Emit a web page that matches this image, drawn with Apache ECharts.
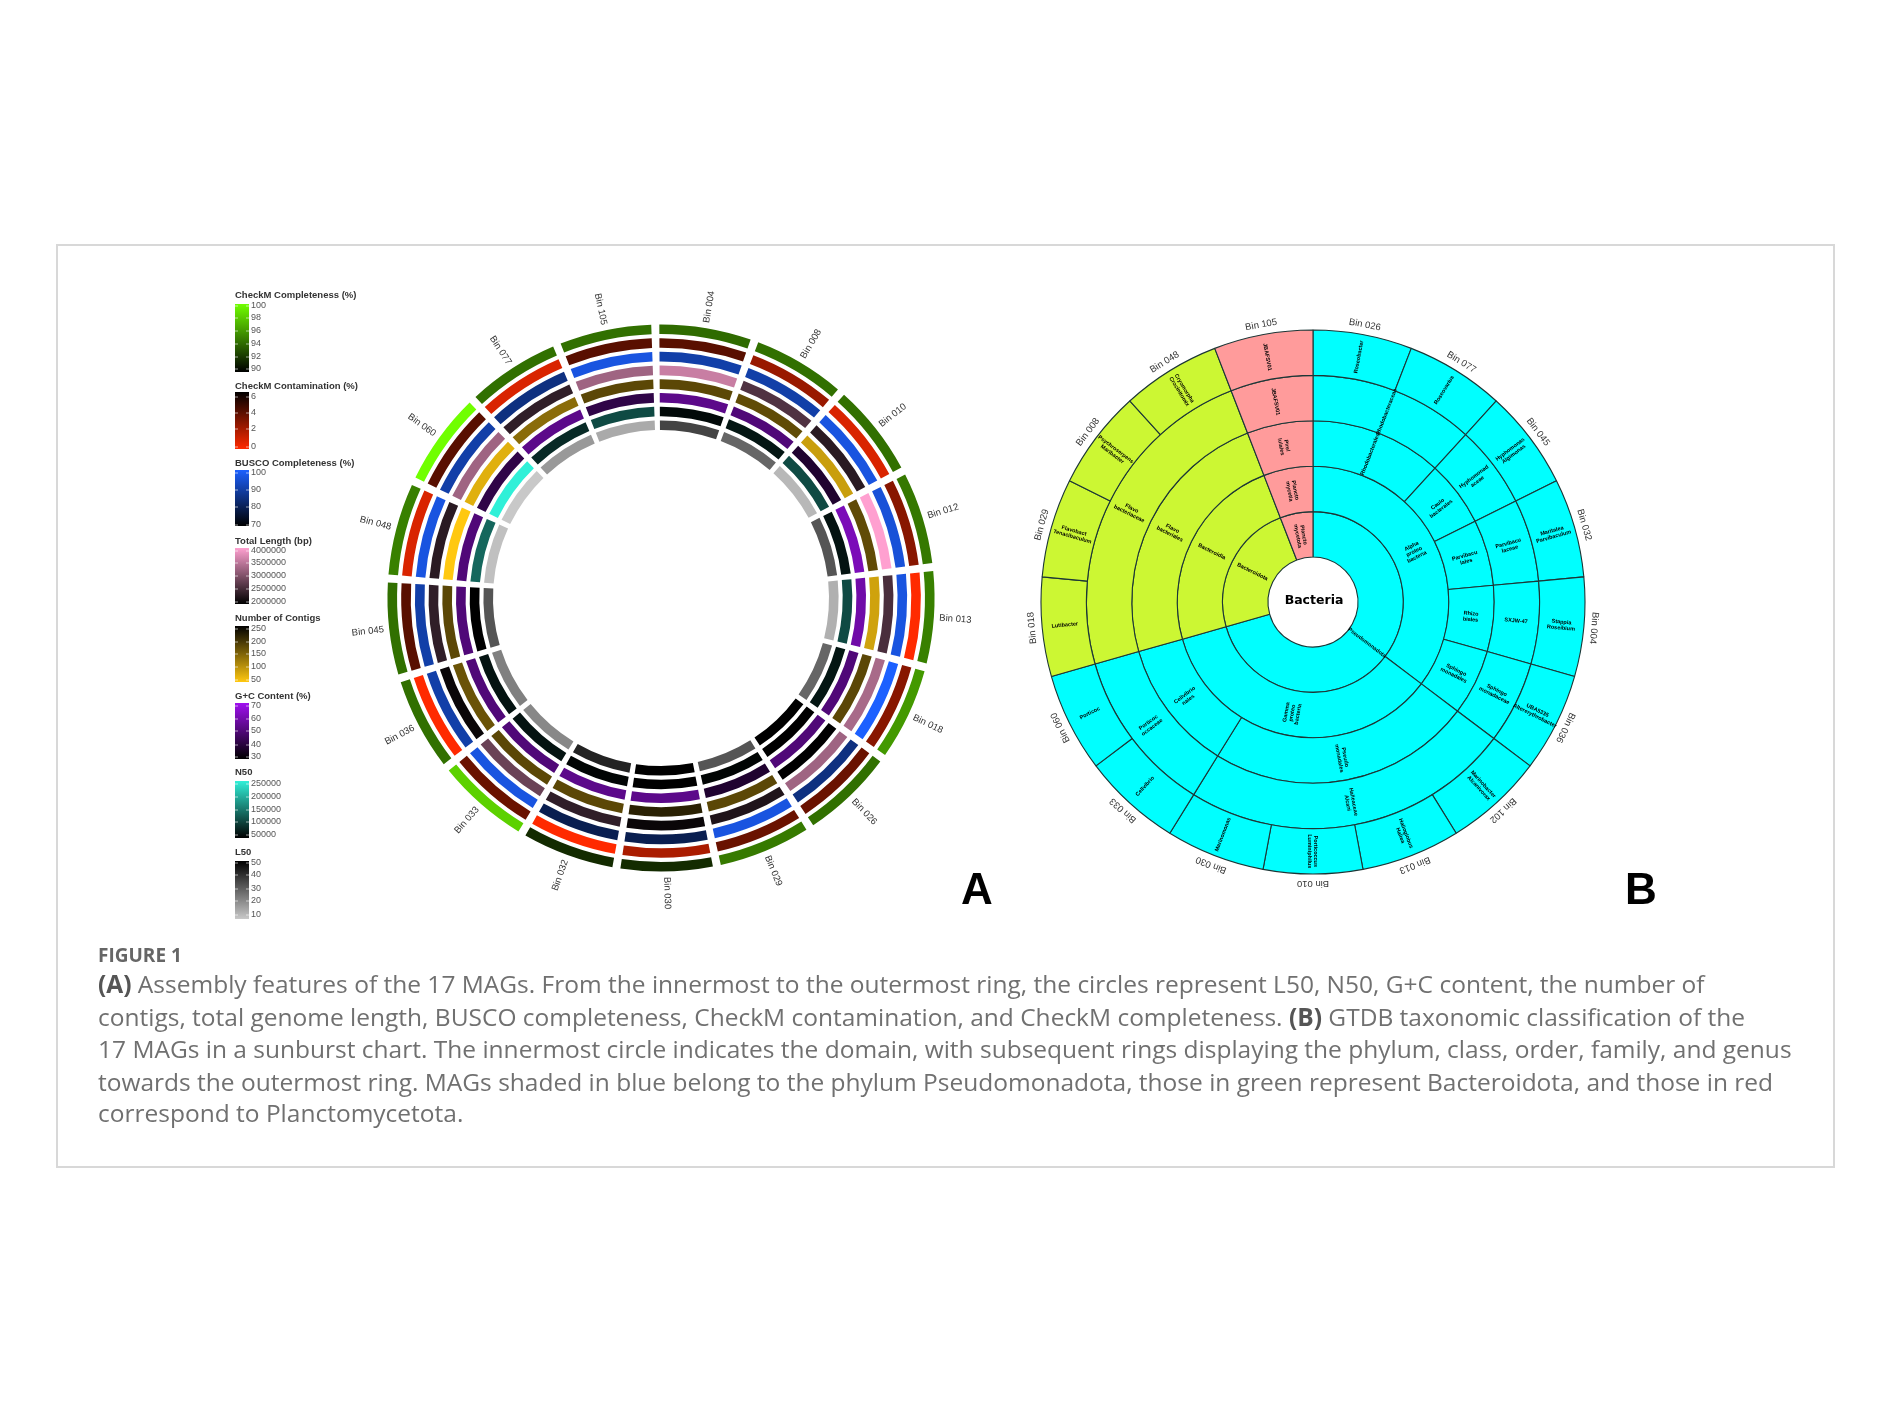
<!DOCTYPE html>
<html>
<head>
<meta charset="utf-8">
<style>html,body{margin:0;padding:0;background:#fff}#c{width:1890px;height:1417px}</style>
<script src="https://cdn.jsdelivr.net/npm/echarts@6/dist/echarts.min.js"></script>
</head>
<body>
<div id="c"></div>
<script>
// ---------- Panel A: assembly features, clockwise from 12 o'clock ----------
const binsA = ['Bin 004','Bin 008','Bin 010','Bin 012','Bin 013','Bin 018','Bin 026','Bin 029','Bin 030','Bin 032','Bin 033','Bin 036','Bin 045','Bin 048','Bin 060','Bin 077','Bin 105'];
const completeness  = [94.2,94.4,94.4,94.7,95,96,94.4,94.8,91.7,91.7,98.2,94.4,94.4,95,100,94.4,94.4];
const contamination = [3.9,2.4,0.9,2.8,0,2.8,3.5,3.5,2.0,0,3.5,0,3.9,0.9,3.9,0.9,3.9];
const busco         = [89.8,89.8,96.4,95.4,96.4,100,85,96.4,79.4,79.4,96.4,89.8,89.8,96.4,89.8,85,96.4];
const totalLength   = [3570000,2630000,2330000,4000000,2580000,3320000,3250000,2250000,2080000,2380000,2830000,2080000,2380000,2330000,3250000,2380000,3250000];
const contigs       = [179,175,92,175,88,179,250,179,217,179,179,167,179,50,74,142,179];
const gcContent     = [53,50,38,60.7,58,50,50,38,53,53,50,50,50,50,42,53,42];
const n50           = [58000,68000,112000,66000,112000,68000,50000,54000,50000,54000,66000,66000,50000,136000,250000,85000,112000];
const l50           = [36.4,29.6,13.2,33,14.8,29.6,50,33,50,43,22.8,24.4,33,11.6,10,19.4,16];

// legend titles, tick labels
const legendTitles = ['CheckM Completeness (%)','CheckM Contamination (%)','BUSCO Completeness (%)','Total Length (bp)','Number of Contigs','G+C Content (%)','N50','L50'];
const ticksCompleteness = [100,98,96,94,92,90];
const ticksContamination = [6,4,2,0];
const ticksBusco = [100,90,80,70];
const ticksLength = [4000000,3500000,3000000,2500000,2000000];
const ticksContigs = [250,200,150,100,50];
const ticksGc = [70,60,50,40,30];
const ticksN50 = [250000,200000,150000,100000,50000];
const ticksL50 = [50,40,30,20,10];

// ---------- Panel B: GTDB taxonomy, clockwise from 12 o'clock ----------
const binsB = ['Bin 026','Bin 077','Bin 045','Bin 032','Bin 004','Bin 036','Bin 102','Bin 013','Bin 010','Bin 030','Bin 033','Bin 060','Bin 018','Bin 029','Bin 008','Bin 048','Bin 105'];
const phyla = ['Pseudomonadota','Pseudomonadota','Pseudomonadota','Pseudomonadota','Pseudomonadota','Pseudomonadota','Pseudomonadota','Pseudomonadota','Pseudomonadota','Pseudomonadota','Pseudomonadota','Pseudomonadota','Bacteroidota','Bacteroidota','Bacteroidota','Bacteroidota','Plancto\nmycetota'];
const classes = ['Alpha\nproteo\nbacteria','Alpha\nproteo\nbacteria','Alpha\nproteo\nbacteria','Alpha\nproteo\nbacteria','Alpha\nproteo\nbacteria','Alpha\nproteo\nbacteria','Gamma\nproteo\nbacteria','Gamma\nproteo\nbacteria','Gamma\nproteo\nbacteria','Gamma\nproteo\nbacteria','Gamma\nproteo\nbacteria','Gamma\nproteo\nbacteria','Bacteroidia','Bacteroidia','Bacteroidia','Bacteroidia','Plancto\nmycetia'];
const orders = ['Rhodobacterales','Rhodobacterales','Caulo\nbacterales','Parvibacu\nlales','Rhizo\nbiales','Sphingo\nmonadales','Pseudo\nmonadales','Pseudo\nmonadales','Pseudo\nmonadales','Pseudo\nmonadales','Cellvibrio\nnales','Cellvibrio\nnales','Flavo\nbacteriales','Flavo\nbacteriales','Flavo\nbacteriales','Flavo\nbacteriales','Pirel\nlulales'];
const families = ['Rhodobacteraceae','Rhodobacteraceae','Hyphomonad\naceae','Parvibacu\nlaceae','SXJW-47','Sphingo\nmonadaceae','Halieaceae\nAlcani','Halieaceae\nAlcani','Halieaceae\nAlcani','Halieaceae\nAlcani','Porticoc\noccaceae','Porticoc\noccaceae','Flavo\nbacteriaceae','Flavo\nbacteriaceae','Flavo\nbacteriaceae','Flavo\nbacteriaceae','JBAFSV01'];
const genera = ['Roseobacter','Roseovarius','Hyphomonas\nAlgimonas','Maritalea\nParvibaculum','Stappia\nRoseibium','UBA5335\nAltererythrobacter','Marinobacter\nAlcanivorax','Halioglobus\nHaliea','Porticoccus\nLuminiphilus','Marinomonas','Cellvibrio','Porticoc','Lutibacter','Flavobact\nTenacibaculum','Psychroserpens\nMaribacter','Cryomorpha\nCrocinitomix','JBAFSV01'];
const phylumColors = {Pseudomonadota:'#00ffff', Bacteroidota:'#ccf733', 'Plancto\nmycetota':'#ff9b9b'};

// ---------- Caption ----------
const captionHead = 'FIGURE 1';
const captionLines = [
  '{b|(A)} Assembly features of the 17 MAGs. From the innermost to the outermost ring, the circles represent L50, N50, G+C content, the number of',
  'contigs, total genome length, BUSCO completeness, CheckM contamination, and CheckM completeness. {b|(B)} GTDB taxonomic classification of the',
  '17 MAGs in a sunburst chart. The innermost circle indicates the domain, with subsequent rings displaying the phylum, class, order, family, and genus',
  'towards the outermost ring. MAGs shaded in blue belong to the phylum Pseudomonadota, those in green represent Bacteroidota, and those in red',
  'correspond to Planctomycetota.'
];

// ---------- scales: [values, value at low colour, low colour, value at high colour, high colour], inner to outer ----------
const tracks = [
  [l50, 10,'#c8c8c8', 50,'#000000'],
  [n50, 50000,'#000000', 250000,'#30f0d8'],
  [gcContent, 30,'#000000', 70,'#a010f0'],
  [contigs, 50,'#ffc810', 250,'#000000'],
  [totalLength, 2000000,'#000000', 4000000,'#ffa0d0'],
  [busco, 70,'#000000', 100,'#1c60ff'],
  [contamination, 0,'#ff2a00', 6,'#000000'],
  [completeness, 90,'#000000', 100,'#70ff00']
];
function rgb(h){return [1,3,5].map(i=>parseInt(h.substr(i,2),16));}
function mix(a,b,t){const x=rgb(a),y=rgb(b);return 'rgb('+x.map((v,i)=>Math.round(v+(y[i]-v)*t)).join(',')+')';}

const cellData = [];
tracks.forEach((tr,k)=>tr[0].forEach((v,b)=>cellData.push([b,k,v])));

const GAP = 0.04;
function renderCell(params, api){
  const b=api.value(0), k=api.value(1), v=api.value(2);
  const tr=tracks[k];
  const t=(v-tr[1])/(tr[3]-tr[1]);
  const a=api.coord([k,b+GAP]), c=api.coord([k+0.7,b+1-GAP]);
  return {type:'sector',silent:true,
    shape:{cx:params.coordSys.cx,cy:params.coordSys.cy,r0:a[2],r:c[2],startAngle:-a[3],endAngle:-c[3],clockwise:true},
    style:{fill:mix(tr[2],tr[4],t)}};
}
function renderLabelA(params, api){
  const i=api.value(0);
  const p=api.coord([9.27,i+0.5]);
  const theta=((90-p[3]*180/Math.PI)%360+360)%360;
  const rot=theta<180?90-theta:270-theta;
  return {type:'text',silent:true,x:p[0],y:p[1],rotation:rot*Math.PI/180,
    style:{text:binsA[i],x:0,y:0,align:'center',verticalAlign:'middle',fill:'#333',font:'9.5px "Liberation Sans"'}};
}
function renderLabelB(params, api){
  const i=api.value(0);
  const p=api.coord([1.044,i+0.5]);
  return {type:'text',silent:true,x:p[0],y:p[1],rotation:p[3]-Math.PI/2,
    style:{text:binsB[i],x:0,y:0,align:'center',verticalAlign:'middle',fill:'#333',font:'9.5px "Liberation Sans"'}};
}

// Sunburst tree, grouped from the parallel lists
const ranks=[phyla,classes,orders,families,genera];
function build(level,from,to,color){
  const out=[];let i=from;
  while(i<to){
    let j=i+1;
    while(j<to&&ranks[level][j]===ranks[level][i])j++;
    const col=color||phylumColors[ranks[level][i]];
    const node={name:ranks[level][i],itemStyle:{color:col}};
    if(level<4)node.children=build(level+1,i,j,col);else node.value=j-i;
    out.push(node);i=j;
  }
  return out;
}

// Legend and caption as graphics
const legendLayout=[
  {ty:295,y0:304,y1:372,ticks:ticksCompleteness,top:'#70ff00',bot:'#000000',ly:[306,318,331,344,357,369]},
  {ty:386,y0:392,y1:449,ticks:ticksContamination,top:'#000000',bot:'#ff2a00',ly:[397,413,429,447]},
  {ty:463,y0:470,y1:526,ticks:ticksBusco,top:'#1c60ff',bot:'#000000',ly:[473,490,507,525]},
  {ty:541,y0:548,y1:604,ticks:ticksLength,top:'#ffa0d0',bot:'#000000',ly:[551,563,576,589,602]},
  {ty:618,y0:626,y1:682,ticks:ticksContigs,top:'#000000',bot:'#ffc810',ly:[629,642,654,667,680]},
  {ty:696,y0:703,y1:759,ticks:ticksGc,top:'#a010f0',bot:'#000000',ly:[706,719,731,745,757]},
  {ty:772,y0:781,y1:838,ticks:ticksN50,top:'#30f0d8',bot:'#000000',ly:[784,797,810,822,835]},
  {ty:852,y0:861,y1:919,ticks:ticksL50,top:'#000000',bot:'#c8c8c8',ly:[863,875,889,901,915]}
];
const graphics=[{type:'rect',z:-1,shape:{x:57,y:245,width:1777,height:922},style:{fill:'#fff',stroke:'#d8d8d8',lineWidth:2}}];
legendLayout.forEach((l,i)=>{
  graphics.push({type:'text',style:{text:legendTitles[i],x:235,y:l.ty,verticalAlign:'middle',fill:'#333',font:'bold 9.5px "Liberation Sans"'}});
  graphics.push({type:'rect',shape:{x:235,y:l.y0,width:14,height:l.y1-l.y0},style:{fill:{type:'linear',x:0,y:0,x2:0,y2:1,colorStops:[{offset:0,color:l.top},{offset:1,color:l.bot}]}}});
  l.ticks.forEach((t,j)=>{
    graphics.push({type:'text',style:{text:String(t),x:251,y:l.ly[j],verticalAlign:'middle',fill:'#555',font:'9px "Liberation Sans"'}});
    graphics.push({type:'line',shape:{x1:235,y1:l.ly[j],x2:238,y2:l.ly[j]},style:{stroke:'rgba(255,255,255,.6)',lineWidth:1}});
    graphics.push({type:'line',shape:{x1:246,y1:l.ly[j],x2:249,y2:l.ly[j]},style:{stroke:'rgba(255,255,255,.6)',lineWidth:1}});
  });
});
graphics.push({type:'text',style:{text:'A',x:977,y:892,align:'center',verticalAlign:'middle',fill:'#000',font:'bold 44px "Liberation Sans"'}});
graphics.push({type:'text',style:{text:'B',x:1641,y:892,align:'center',verticalAlign:'middle',fill:'#000',font:'bold 44px "Liberation Sans"'}});
graphics.push({type:'text',z:20,style:{text:'Bacteria',x:1314,y:601,align:'center',verticalAlign:'middle',fill:'#000',font:'bold 12.5px "DejaVu Sans"'}});
graphics.push({type:'text',style:{text:captionHead,x:98,y:957,verticalAlign:'middle',fill:'#666',font:'bold 19px "Open Sans"'}});
const capY=[986,1019,1051,1084,1115];
captionLines.forEach((s,i)=>{
  graphics.push({type:'text',style:{text:s,x:98,y:capY[i],verticalAlign:'middle',fill:'#707070',font:'24.5px "Open Sans"',
    rich:{b:{font:'bold 24.5px "Open Sans"',fill:'#555'}}}});
});

const lvl=()=>({label:{rotate:'radial',fontSize:5.5,fontWeight:'bold',lineHeight:6,color:'#000',overflow:'none'}});
const chart=echarts.init(document.getElementById('c'),null,{width:1890,height:1417});
chart.setOption({
  animation:false,
  backgroundColor:'#fff',
  graphic:{elements:graphics},
  polar:[{center:[661,598],radius:[168,273]},{center:[1313,602],radius:[45,272]}],
  angleAxis:[
    {polarIndex:0,type:'value',min:0,max:17,interval:1,startAngle:91.2,show:false},
    {polarIndex:1,type:'value',min:0,max:17,interval:1,startAngle:90,show:false}
  ],
  radiusAxis:[
    {polarIndex:0,type:'value',min:0,max:7.66,show:false},
    {polarIndex:1,type:'value',min:0,max:1,show:false}
  ],
  tooltip:{show:false},
  series:[
    {type:'custom',coordinateSystem:'polar',polarIndex:0,data:cellData,renderItem:renderCell,silent:true},
    {type:'custom',coordinateSystem:'polar',polarIndex:0,data:binsA.map((b,i)=>[i]),renderItem:renderLabelA,silent:true},
    {type:'sunburst',center:[1313,602],radius:[45,272],sort:null,nodeClick:false,silent:true,
     emphasis:{focus:'none'},
     data:build(0,0,17),
     itemStyle:{borderColor:'#1c3636',borderWidth:1.1},
     levels:[{},lvl(),lvl(),lvl(),lvl(),lvl()]},
    {type:'custom',coordinateSystem:'polar',polarIndex:1,data:binsB.map((b,i)=>[i]),renderItem:renderLabelB,silent:true}
  ]
});
</script>
</body>
</html>
